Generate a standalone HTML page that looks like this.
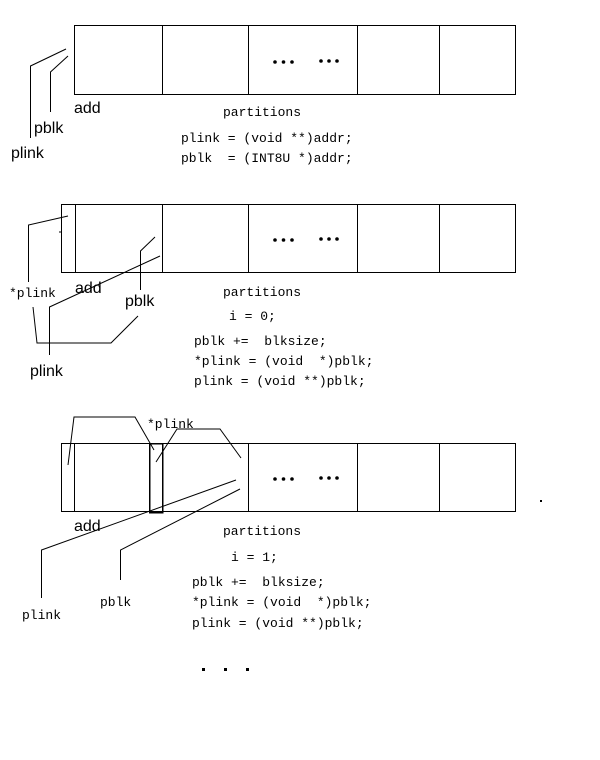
<!DOCTYPE html>
<html><head><meta charset="utf-8"><style>
html,body{margin:0;padding:0;background:#fff;width:600px;height:760px;overflow:hidden}
svg{display:block}
text{white-space:pre}
.m{font-family:"Liberation Mono","Noto Sans CJK SC",monospace;font-size:13px;fill:#000}
.s{font-family:"Liberation Sans",sans-serif;font-size:16px;fill:#000}
</style></head><body>
<svg width="600" height="760" viewBox="0 0 600 760" stroke="#000" stroke-width="1" fill="none" shape-rendering="crispEdges" xml:space="preserve">
<!-- diagram 1 -->
<rect x="74.5" y="25.5" width="441" height="69"/>
<path d="M162.5 25v69M248.5 25v69M357.5 25v69M439.5 25v69"/>
<g shape-rendering="auto">
<path d="M30.5 138V66L66 49M50.5 112V72L68 56"/>
</g>
<g stroke="none" fill="#000" shape-rendering="auto">
<circle cx="275" cy="62" r="1.8"/><circle cx="283.5" cy="62" r="1.8"/><circle cx="292" cy="62" r="1.8"/>
<circle cx="321" cy="61" r="1.8"/><circle cx="329" cy="61" r="1.8"/><circle cx="337" cy="61" r="1.8"/>
<text class="s" x="74" y="113">add</text>
<text class="s" x="34" y="133">pblk</text>
<text class="s" x="11" y="158">plink</text>
<text class="m" x="223" y="116">partitions</text>
<text class="m" x="181" y="142">plink = (void **)addr;</text>
<text class="m" x="181" y="162">pblk  = (INT8U *)addr;</text>
</g>
<rect x="180" y="170" width="180" height="3" fill="#fff" stroke="none"/>
<!-- diagram 2 -->
<rect x="61.5" y="204.5" width="454" height="68"/>
<path d="M75.5 204v69M162.5 204v69M248.5 204v69M357.5 204v69M439.5 204v69"/>
<g shape-rendering="auto">
<path d="M28.5 282V225L68 216M33 307L37 343H111L138 316M49.5 355V307L160 256M140.5 290V251L155 237M59 232h3"/>
</g>
<g stroke="none" fill="#000" shape-rendering="auto">
<circle cx="275" cy="240" r="1.8"/><circle cx="283.5" cy="240" r="1.8"/><circle cx="292" cy="240" r="1.8"/>
<circle cx="321" cy="239" r="1.8"/><circle cx="329" cy="239" r="1.8"/><circle cx="337" cy="239" r="1.8"/>
<text class="m" x="9" y="297">*plink</text>
<text class="s" x="75" y="293">add</text>
<text class="s" x="125" y="306">pblk</text>
<text class="s" x="30" y="376">plink</text>
<text class="m" x="223" y="296">partitions</text>
<text class="m" x="229" y="320">i = 0;</text>
<text class="m" x="194" y="345">pblk +=  blksize;</text>
<text class="m" x="194" y="365">*plink = (void  *)pblk;</text>
<text class="m" x="194" y="385">plink = (void **)pblk;</text>
</g>
<!-- diagram 3 -->
<rect x="61.5" y="443.5" width="454" height="68"/>
<path d="M74.5 443v69M248.5 443v69M357.5 443v69M439.5 443v69"/>
<rect x="149.5" y="443.5" width="13" height="69" stroke-width="1.5"/>
<g shape-rendering="auto">
<path d="M68 465L74 417H135L154 450M156 462L177 429H220L241 458M41.5 598V550L236 480M120.5 580V550L240 489"/>
</g>
<g stroke="none" fill="#000" shape-rendering="auto">
<circle cx="275" cy="479" r="1.8"/><circle cx="283.5" cy="479" r="1.8"/><circle cx="292" cy="479" r="1.8"/>
<circle cx="321" cy="478" r="1.8"/><circle cx="329" cy="478" r="1.8"/><circle cx="337" cy="478" r="1.8"/>
<text class="m" x="147" y="428">*plink</text>
<text class="s" x="74" y="531">add</text>
<text class="m" x="223" y="535">partitions</text>
<text class="m" x="231" y="561">i = 1;</text>
<text class="m" x="192" y="586">pblk +=  blksize;</text>
<text class="m" x="192" y="606">*plink = (void  *)pblk;</text>
<text class="m" x="192" y="627">plink = (void **)pblk;</text>
<text class="m" x="22" y="619">plink</text>
<text class="m" x="100" y="606">pblk</text>
<rect x="202" y="668" width="3" height="3"/><rect x="224" y="668" width="3" height="3"/><rect x="246" y="668" width="3" height="3"/>
<rect x="540" y="500" width="2" height="2"/>
</g>
</svg>
</body></html>
